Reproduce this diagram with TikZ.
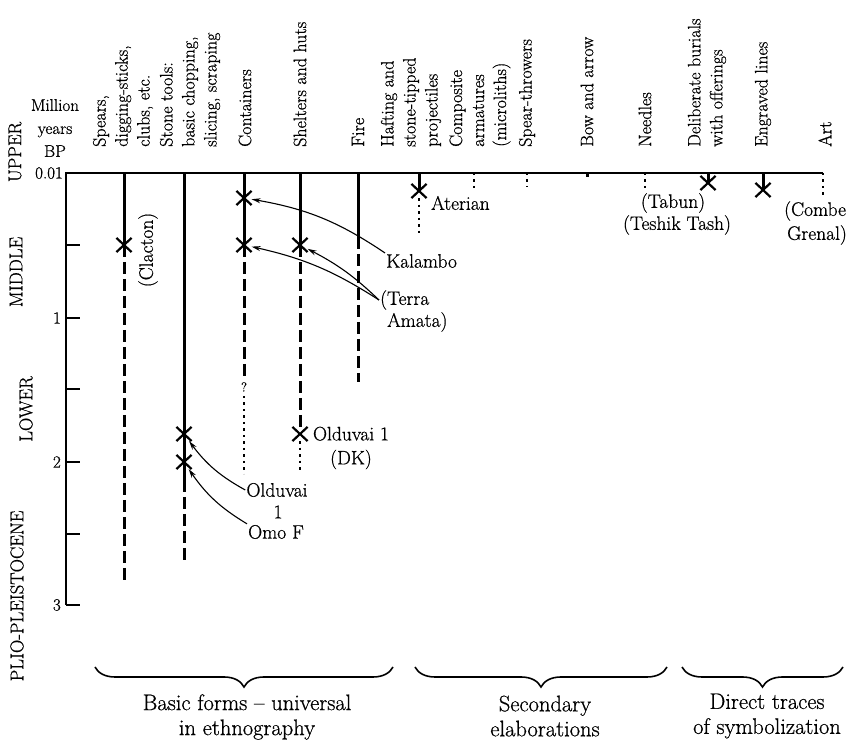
\documentclass[tikz,border=0pt]{standalone}
\usepackage{fontspec}
\setmainfont{Latin Modern Roman}[FakeBold=0.7]
\usetikzlibrary{positioning,arrows.meta,shapes.misc,decorations.pathreplacing}
\tikzset{
  hdr/.style     ={rotate=90, anchor=west, align=left, inner sep=0pt, font=\fontsize{18}{22}\selectfont},
  site/.style    ={inner sep=1pt, align=center, font=\fontsize{19.5}{24}\selectfont},
  era/.style     ={rotate=90, inner sep=0pt, font=\fontsize{18.5}{20}\selectfont},
  num/.style     ={anchor=east, inner sep=1pt, font=\fontsize{17}{20}\selectfont},
  grp/.style     ={align=center, font=\fontsize{22.5}{25}\selectfont},
  solidln/.style ={line width=3pt},
  dashln/.style  ={line width=3pt, dash pattern=on 12pt off 5pt},
  dotln/.style   ={line width=2.6pt, dash pattern=on 2.5pt off 4pt},
  xmk/.style     ={cross out, draw, line width=2.2pt, minimum width=13pt, minimum height=12pt, inner sep=0pt},
  ptr/.style     ={-{Stealth[length=9pt,width=5pt]}, line width=1.1pt},
  brc/.style     ={decorate, decoration={brace,amplitude=20pt,mirror}, line width=1.6pt},
}

\begin{document}
\begin{tikzpicture}[x=1pt, y=1pt]
  \useasboundingbox (0,0) rectangle (852,744);

  % time axis
  \coordinate (aTop) at (66,571);
  \coordinate (aBot) at (66,139);
  \coordinate (aEnd) at (823,571);
  \draw[line width=2.2pt] (aEnd) -- (aTop) -- (aBot);
  \foreach \y in {499,426,355,282,210,139}
    \draw[line width=1.5pt] (66,\y) -- (80,\y);
  \node[num] (n001) at (64,571) {0.01};
  \node[num] (n1)   at (62,426) {1};
  \node[num] (n2)   at (62,282) {2};
  \node[num] (n3)   at (62,139) {3};
  \node[align=center, inner sep=0pt, font=\fontsize{17}{23}\selectfont] (unit) at (55,616) {Million\\years\\BP};

  \node[era] (eUp)  at (15,592) {UPPER};
  \node[era] (eMid) at (16,472) {MIDDLE};
  \node[era] (eLow) at (26,335) {LOWER};
  \node[era] (ePlio) at (17,148) {PLIO-PLEISTOCENE};

  % column headers
  \node[hdr] (hSpr) at (123,597) {Spears,\\digging-sticks,\\clubs, etc.};
  \node[hdr] (hSt)  at (190,597) {Stone tools:\\basic chopping,\\slicing, scraping};
  \node[hdr] (hCt)  at (245,597) {Containers};
  \node[hdr] (hSh)  at (300,597) {Shelters and huts};
  \node[hdr] (hFi)  at (358,597) {Fire};
  \node[hdr] (hHa)  at (411,597) {Hafting and\\stone-tipped\\projectiles};
  \node[hdr] (hCo)  at (480,597) {Composite\\armatures\\(microliths)};
  \node[hdr] (hSpt) at (527,597) {Spear-throwers};
  \node[hdr] (hBow) at (587,597) {Bow and arrow};
  \node[hdr] (hNe)  at (645,597) {Needles};
  \node[hdr] (hBu)  at (707,597) {Deliberate burials\\with offerings};
  \node[hdr] (hEn)  at (763,597) {Engraved lines};
  \node[hdr] (hArt) at (825,597) {Art};

  % spears
  \coordinate (tSpr) at (124,571);
  \node[xmk] (xSpr) at (124,499) {};
  \coordinate (eSpr) at (124,161);
  \draw[solidln] (tSpr) -- (xSpr.center);
  \draw[dashln] (xSpr.center) -- (eSpr);
  \node[site, rotate=90] (clac) at (148,494) {(Clacton)};

  % stone tools
  \coordinate (tSt) at (184,571);
  \node[xmk] (xSt1) at (184,310) {};
  \node[xmk] (xSt2) at (184,282) {};
  \coordinate (mSt) at (184,264);
  \coordinate (eSt) at (184,184);
  \draw[solidln] (tSt) -- (mSt);
  \draw[dashln] (mSt) -- (eSt);

  % containers
  \coordinate (tCt) at (244,571);
  \node[xmk] (xCt1) at (244,546) {};
  \node[xmk] (xCt2) at (244,499) {};
  \coordinate (mCt) at (244,367);
  \node[inner sep=0pt, font=\fontsize{13}{14}\selectfont] (qCt) at (244,357) {?};
  \coordinate (dCt) at (244,348);
  \coordinate (eCt) at (244,270);
  \draw[solidln] (tCt) -- (xCt2.center);
  \draw[dashln] (xCt2.center) -- (mCt);
  \draw[dotln] (dCt) -- (eCt);

  % shelters
  \coordinate (tSh) at (300,571);
  \node[xmk] (xSh1) at (300,499) {};
  \node[xmk] (xSh2) at (300,310) {};
  \coordinate (eSh) at (300,272);
  \draw[solidln] (tSh) -- (xSh1.center);
  \draw[dashln] (xSh1.center) -- (xSh2.north);
  \draw[dotln] (xSh2.south) -- (eSh);
  \node[site] (olddk) at (351,296) {Olduvai 1\\(DK)};

  % fire
  \coordinate (tFi) at (358,571);
  \coordinate (mFi) at (358,507);
  \coordinate (eFi) at (358,362);
  \draw[solidln] (tFi) -- (mFi);
  \draw[dashln] (mFi) -- (eFi);

  % hafting
  \coordinate (tHa) at (419,571);
  \node[xmk] (xHa) at (419,553) {};
  \coordinate (eHa) at (419,509);
  \draw[solidln] (tHa) -- (xHa.center);
  \draw[dotln] (xHa.south) -- (eHa);
  \node[site, anchor=west] (ater) at (430,541) {Aterian};

  % secondary and symbolic
  \draw[dotln] (474,571) coordinate (tCo) -- (474,554) coordinate (eCo);
  \draw[dotln] (527,571) coordinate (tSpt) -- (527,557) coordinate (eSpt);
  \draw[solidln] (587,571) coordinate (tBow) -- (587,567) coordinate (eBow);
  \draw[dotln] (645,571) coordinate (tNe) -- (645,556) coordinate (eNe);
  \node[xmk] (xBu) at (708,561) {};
  \draw[solidln] (708,571) coordinate (tBu) -- (xBu.center);
  \node[xmk] (xEn) at (763,554) {};
  \draw[solidln] (763,571) coordinate (tEn) -- (xEn.center);
  \draw[dotln] (823,571) coordinate (tArt) -- (823,547) coordinate (eArt);

  \node[site] (tabun) at (673,541) {(Tabun)};
  \node[site] (teshik) at (677,519) {(Teshik Tash)};
  \node[site, anchor=west, align=left] (combe) at (783,521) {(Combe\\\hspace{3pt}Grenal)};

  % sites with pointers
  \node[site, anchor=west] (kal) at (385,483) {Kalambo};
  \node[site, anchor=west] (terra) at (379,444) {(Terra};
  \node[site, anchor=west] (amata) at (386,422) {Amata)};
  \draw[ptr] (kal.north west) to[bend right=12] (xCt1);
  \draw[ptr] (terra.west) to[bend right=10] (xCt2);
  \draw[ptr] (terra.west) to[bend right=8] (xSh1);

  \node[site] (oldu) at (277,254) {Olduvai};
  \node[site] (oldu1) at (278,232) {1};
  \node[site] (omo) at (276,212) {Omo F};
  \draw[ptr] (oldu.west) to[bend left=12] (xSt1);
  \draw[ptr] (omo.north west) to[bend left=12] (xSt2);

  % groups
  \coordinate (b1l) at (95,77);  \coordinate (b1r) at (393,77);
  \coordinate (b2l) at (415,77); \coordinate (b2r) at (667,77);
  \coordinate (b3l) at (682,77); \coordinate (b3r) at (843,77);
  \draw[brc] (b1l) -- (b1r);
  \draw[brc] (b2l) -- (b2r);
  \draw[brc] (b3l) -- (b3r);
  \node[grp] (gBasic) at (247,27) {Basic forms -- universal\\in ethnography};
  \node[grp] (gSec) at (545,28) {Secondary\\elaborations};
  \node[grp] (gDir) at (767,28) {Direct traces\\of symbolization};
\end{tikzpicture}
\end{document}
